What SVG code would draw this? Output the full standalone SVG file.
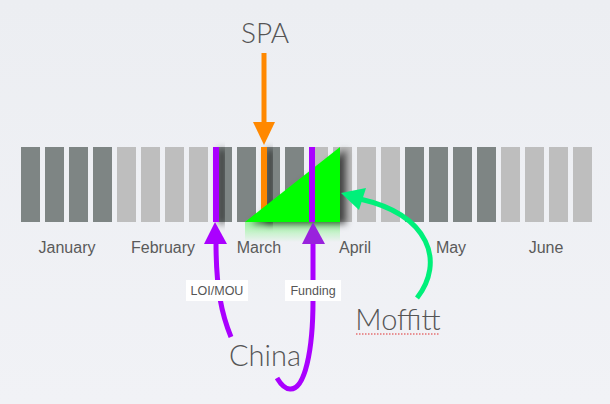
<svg xmlns="http://www.w3.org/2000/svg" width="610" height="404" viewBox="0 0 610 404">
<defs>
<linearGradient id="bg" x1="0" y1="0" x2="0" y2="1"><stop offset="0" stop-color="#eceef2"/><stop offset="1" stop-color="#f1f2f6"/></linearGradient>
<linearGradient id="refl" x1="0" y1="0" x2="0" y2="1"><stop offset="0" stop-color="#00ff00" stop-opacity="0.35"/><stop offset="1" stop-color="#00ff00" stop-opacity="0"/></linearGradient>
<filter id="sh" x="-50%" y="-50%" width="250%" height="200%"><feDropShadow dx="6" dy="2" stdDeviation="3.5" flood-color="#000" flood-opacity="0.65"/></filter>
</defs>
<style>
.dk{fill:#7e8584}
.lt{fill:#bebebe}
.mon{font-family:"Liberation Sans",Arial,sans-serif;font-size:16px;fill:#5a5a5a;text-anchor:middle}
.big{font-family:Lato,"Open Sans",sans-serif;font-weight:300;fill:#555;text-anchor:middle}
.lbl{font-family:"Liberation Sans",Arial,sans-serif;font-size:12.5px;fill:#555;text-anchor:middle}
.pl{fill:none;stroke:#aa00ff;stroke-width:5;stroke-linecap:butt}
</style>
<rect width="610" height="404" fill="url(#bg)"/>
<g id="bars">
<rect class="dk" x="21" y="147" width="19" height="75"/>
<rect class="dk" x="45" y="147" width="19" height="75"/>
<rect class="dk" x="69" y="147" width="19" height="75"/>
<rect class="dk" x="93" y="147" width="19" height="75"/>
<rect class="lt" x="117" y="147" width="19" height="75"/>
<rect class="lt" x="141" y="147" width="19" height="75"/>
<rect class="lt" x="165" y="147" width="19" height="75"/>
<rect class="lt" x="189" y="147" width="19" height="75"/>
<rect class="dk" x="213" y="147" width="19" height="75"/>
<rect class="dk" x="237" y="147" width="19" height="75"/>
<rect class="dk" x="261" y="147" width="19" height="75"/>
<rect class="dk" x="285" y="147" width="19" height="75"/>
<rect class="lt" x="309" y="147" width="19" height="75"/>
<rect class="lt" x="333" y="147" width="19" height="75"/>
<rect class="lt" x="357" y="147" width="19" height="75"/>
<rect class="lt" x="381" y="147" width="19" height="75"/>
<rect class="dk" x="405" y="147" width="19" height="75"/>
<rect class="dk" x="429" y="147" width="19" height="75"/>
<rect class="dk" x="453" y="147" width="19" height="75"/>
<rect class="dk" x="477" y="147" width="19" height="75"/>
<rect class="lt" x="501" y="147" width="19" height="75"/>
<rect class="lt" x="525" y="147" width="19" height="75"/>
<rect class="lt" x="549" y="147" width="19" height="75"/>
<rect class="lt" x="573" y="147" width="19" height="75"/>
</g>
<g id="markers">
<rect x="245" y="222" width="95" height="20" fill="url(#refl)"/>
<rect x="213" y="147" width="6" height="75" fill="#aa00ff" filter="url(#sh)"/>
<rect x="261" y="147" width="6" height="75" fill="#ff8800" filter="url(#sh)"/>
<polygon points="245,222 340,147 340,222" fill="#00ff00" filter="url(#sh)"/>
<rect x="309" y="147" width="6" height="75" fill="#aa00ff"/>
</g>
<g id="months">
<text class="mon" x="67" y="253">January</text>
<text class="mon" x="163" y="253">February</text>
<text class="mon" x="259" y="253">March</text>
<text class="mon" x="355" y="253">April</text>
<text class="mon" x="451" y="253">May</text>
<text class="mon" x="546" y="253">June</text>
</g>
<g id="connectors">
<line x1="264" y1="53" x2="264" y2="124" stroke="#ff8800" stroke-width="5"/>
<polygon points="253,122 275,122 264,145" fill="#ff8800"/>
<path class="pl" d="M216,242 C216,290 222,315 231,337"/>
<polygon points="204,244 227,244 215,222" fill="#aa00ff"/>
<path class="pl" d="M313,242 L313,300 C313,350 305,390 290,389 C284,389 280,383 277,378"/>
<polygon points="302,244 325,244 313,222" fill="#9922dd"/>
<path d="M417,298 C445,262 430,215 360,199" fill="none" stroke="#00f07a" stroke-width="5"/>
<polygon points="341,193 366,188 359,210" fill="#00f07a"/>
</g>
<g id="label-loi">
<rect x="186" y="280" width="62" height="21" fill="#fff"/>
<text class="lbl" x="217" y="295">LOI/MOU</text>
</g>
<g id="label-funding">
<rect x="285" y="280" width="56" height="21" fill="#fff"/>
<text class="lbl" x="313" y="295">Funding</text>
</g>
<g id="spa"><text class="big" x="265" y="43" font-size="28">SPA</text></g>
<g id="china"><text class="big" x="265" y="366" font-size="29">China</text></g>
<g id="moffitt">
<text class="big" x="398" y="330" font-size="29">Moffitt</text>
<line x1="356" y1="334" x2="440" y2="334" stroke="#e03030" stroke-width="1.2" stroke-dasharray="1.5,1.5"/>
</g>
</svg>
